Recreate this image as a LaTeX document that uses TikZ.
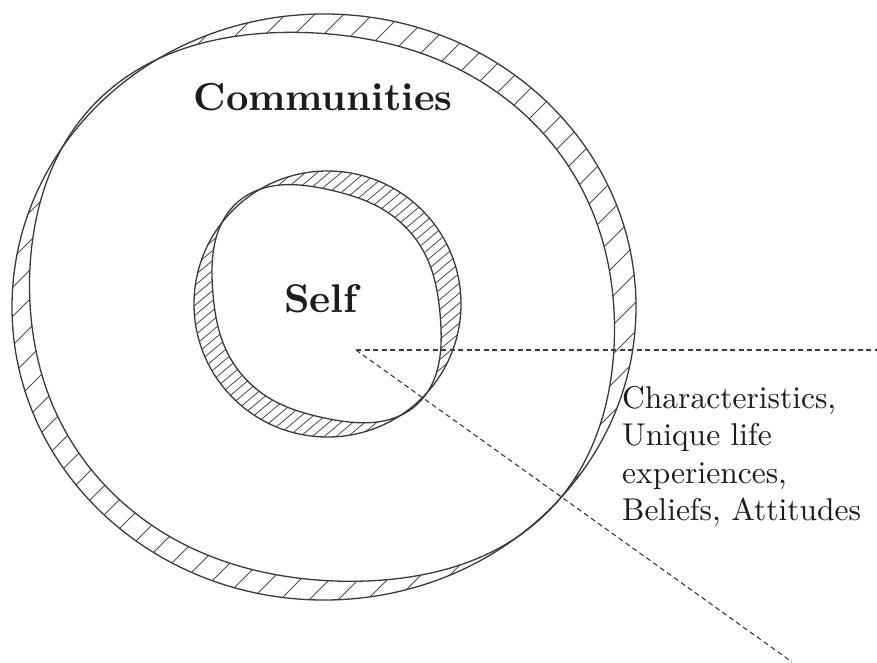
\documentclass[tikz,border=0pt]{standalone}
\usepackage{fontspec}
\newfontfamily\labelfont{lmroman10-regular.otf}[BoldFont=lmroman10-bold.otf]
\definecolor{rimgray}{HTML}{3A3A3A}
\definecolor{hatchgray}{HTML}{4A4A4A}
\definecolor{linkgray}{HTML}{3A3A3A}
\definecolor{inkblack}{HTML}{1C1C1C}
\begin{document}
\begin{tikzpicture}[x=1pt,y=-1pt,
  declare function={
    sq(\t,\p)=cos(\t-\p)*cos(\t-\p);
    band(\t,\p,\w,\e)=\w + \e*cos(\t) - (\w+2)*sq(\t,\p)*sq(\t,\p)*sq(\t,\p);
  },
  rim/.style={draw=rimgray, line width=1.3pt},
  hatchline/.style={draw=hatchgray, line width=0.9pt},
  link/.style={draw=linkgray, line width=1.1pt, dash pattern=on 5pt off 3.5pt},
  title/.style={text=inkblack, inner sep=0pt, anchor=base},
  note/.style={text=inkblack, font=\labelfont\fontsize{31.5}{37.5}\selectfont, align=left, inner sep=0pt, anchor=north west}
]
\fill[white] (0,0) rectangle (877,662);
\useasboundingbox (0,0) rectangle (877,662);

% outer band: Communities
\begin{scope}
  \clip (324,307) ellipse [x radius=312, y radius=293];
  \foreach \k in {-690,-661,...,570}
    \draw[hatchline] (\k,700) -- ++(800,-800);
  \fill[white] plot[domain=0:360, samples=241, variable=\t]
    ({324 + (312 - band(\t,134,23,2))*cos(\t)}, {307 - (293 - band(\t,134,23,2))*sin(\t)}) -- cycle;
\end{scope}
\draw[rim] (324,307) ellipse [x radius=312, y radius=293];
\draw[rim] plot[domain=0:360, samples=241, variable=\t]
    ({324 + (312 - band(\t,134,23,2))*cos(\t)}, {307 - (293 - band(\t,134,23,2))*sin(\t)}) -- cycle;

% inner band: Self
\begin{scope}
  \clip (327.5,304) ellipse [x radius=133.5, y radius=133];
  \foreach \k in {-150,-138.1,...,470}
    \draw[hatchline, line width=0.8pt] (\k,445) -- ++(344.7,-289.3);
  \fill[white] plot[domain=0:360, samples=241, variable=\t]
    ({327.5 + (133.5 - band(\t,131,23,1))*cos(\t)}, {304 - (133 - band(\t,131,23,1))*sin(\t)}) -- cycle;
\end{scope}
\draw[rim] (327.5,304) ellipse [x radius=133.5, y radius=133];
\draw[rim] plot[domain=0:360, samples=241, variable=\t]
    ({327.5 + (133.5 - band(\t,131,23,1))*cos(\t)}, {304 - (133 - band(\t,131,23,1))*sin(\t)}) -- cycle;

% dashed pointers
\coordinate (hub) at (356,350);
\coordinate (eastend) at (877,350);
\coordinate (southend) at (792,662);
\draw[link] (hub) -- (eastend);
\draw[link] (hub) -- (southend);

% labels
\node[title, font=\labelfont\bfseries\fontsize{39}{47}\selectfont] (communities) at (323,110) {Communities};
\node[title, font=\labelfont\bfseries\fontsize{40}{48}\selectfont] (self) at (321,312) {Self};
\node[note] (traits) at (622,386) {Characteristics,\\Unique life\\experiences,\\Beliefs, Attitudes};
\end{tikzpicture}
\end{document}
